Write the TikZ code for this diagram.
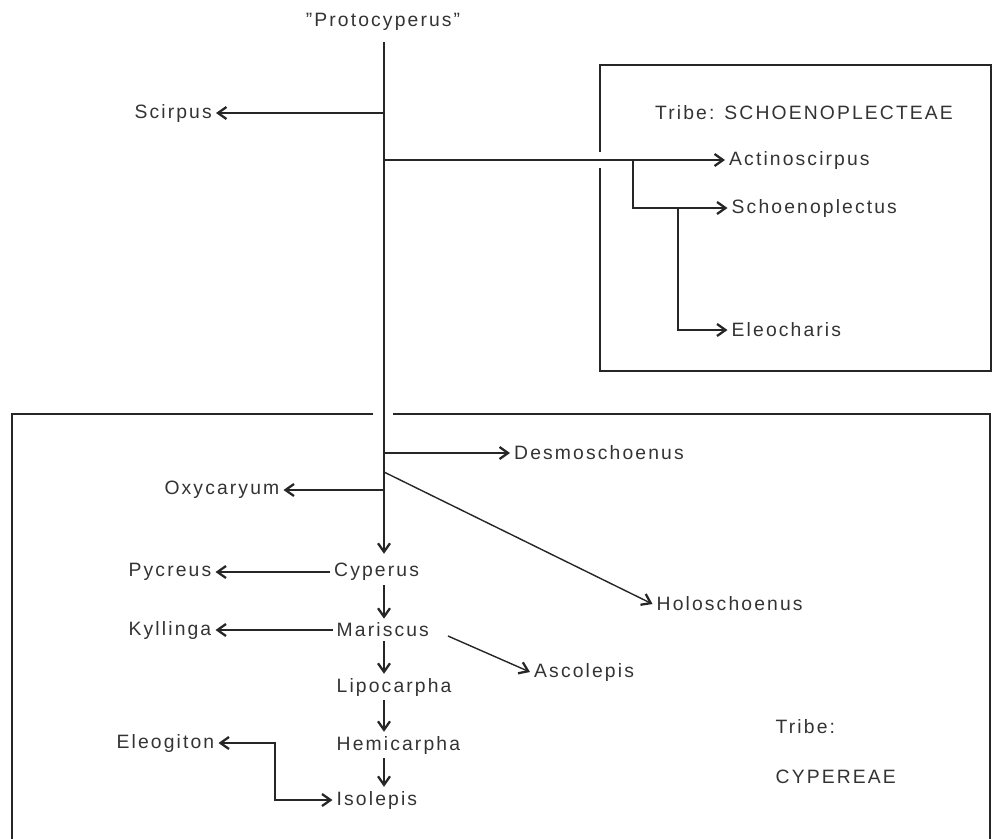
\documentclass[tikz,border=0pt]{standalone}
\usepackage{fontspec}
\setmainfont{Liberation Sans}[LetterSpace=11]
\usepackage{tikz}
\usetikzlibrary{arrows.meta,positioning,calc}

\begin{document}
\begin{tikzpicture}[
    taxon/.style={font=\fontsize{11}{13}\selectfont, text=black!80, inner sep=2pt},
    tribebox/.style={line width=1.6pt, color=black!85},
    every path/.style={line width=0.8pt, color=black!85},
    >={Straight Barb[length=1.7mm,width=2.4mm,line width=1.3pt]}
  ]
    \useasboundingbox (0,0) rectangle (19.86,-16.76);

    \node[taxon] (proto) at (7.66,-0.44) {''Protocyperus''};
    \coordinate (top) at (7.68,-0.84);

    \node[taxon, anchor=east] (scirpus) at (4.32,-2.26) {Scirpus};
    \node[taxon] (schtribe) at (16.08,-2.26) {Tribe: SCHOENOPLECTEAE};
    \node[taxon, anchor=west] (actino) at (14.5,-3.2) {Actinoscirpus};
    \node[taxon, anchor=west] (schoeno) at (14.55,-4.16) {Schoenoplectus};
    \node[taxon, anchor=west] (eleoch) at (14.55,-6.6) {Eleocharis};

    \node[taxon, anchor=west] (desmo) at (10.2,-9.06) {Desmoschoenus};
    \node[taxon, anchor=east] (oxy) at (5.67,-9.8) {Oxycaryum};
    \node[taxon, anchor=west] (holo) at (13.05,-12.08) {Holoschoenus};
    \node[taxon, anchor=west] (cyp) at (6.6,-11.44) {Cyperus};
    \node[taxon, anchor=west] (mar) at (6.65,-12.6) {Mariscus};
    \node[taxon, anchor=west] (lipo) at (6.65,-13.74) {Lipocarpha};
    \node[taxon, anchor=west] (hemi) at (6.65,-14.9) {Hemicarpha};
    \node[taxon, anchor=west] (iso) at (6.65,-16.0) {Isolepis};
    \node[taxon, anchor=east] (pyc) at (4.31,-11.44) {Pycreus};
    \node[taxon, anchor=east] (kyl) at (4.31,-12.6) {Kyllinga};
    \node[taxon, anchor=west] (asco) at (10.6,-13.44) {Ascolepis};
    \node[taxon, anchor=east] (eleog) at (4.37,-14.86) {Eleogiton};
    \node[taxon, anchor=west] (cyptribe) at (15.43,-14.54) {Tribe:};
    \node[taxon, anchor=west] (cypname) at (15.43,-15.54) {CYPEREAE};

    \draw[tribebox] (12.0,-3.04) |- (19.82,-1.3) |- (12.0,-7.42) -- (12.0,-3.36);
    \draw[tribebox] (7.46,-8.28) -| (0.24,-16.8);
    \draw[tribebox] (7.86,-8.28) -| (19.8,-16.8);

    \coordinate (split1) at (12.66,-3.2);
    \coordinate (split2) at (13.56,-4.16);
    \coordinate (bholo) at (7.68,-9.44);
    \coordinate (bmar) at (8.96,-12.72);

    \draw[->] (top) -- ([yshift=3pt]top |- cyp.north);
    \draw[->] (top |- scirpus) -- (scirpus);
    \draw[->] (top |- actino) -- (actino);
    \draw[->] (split1) |- (schoeno);
    \draw[->] (split2) |- (eleoch);
    \draw[->] (top |- desmo) -- (desmo);
    \draw[->] (top |- oxy) -- (oxy);
    \draw[->] (bholo) -- (holo.west);
    \draw[->] (cyp) -- (pyc);
    \draw[->] (mar) -- (kyl);
    \draw[->] (bmar) -- (asco.west);
    \foreach \a/\b in {cyp/mar, mar/lipo, lipo/hemi, hemi/iso}
      \draw[->] (\a.south -| top) -- (\b.north -| top);
    \draw[<->] (eleog.east) -- ++(1.13,0) |- (iso.west);
  \end{tikzpicture}
\end{document}
